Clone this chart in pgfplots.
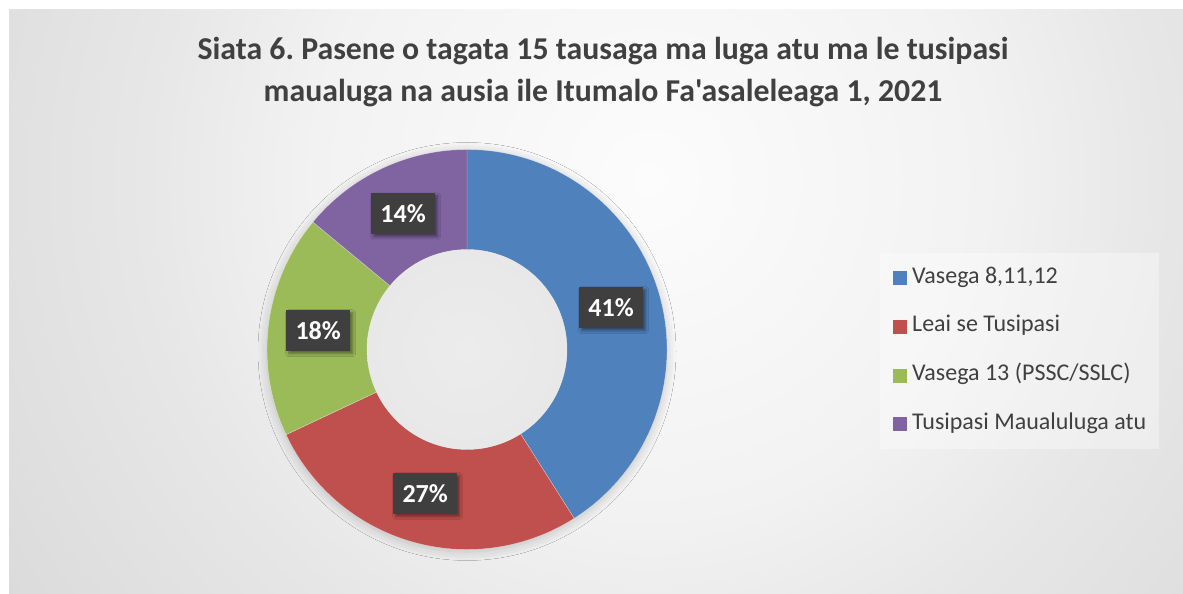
\documentclass[border=0pt]{standalone}
\usepackage{pgfplots}
\pgfplotsset{compat=1.18}
\usepackage{pgfplotstable}
\usetikzlibrary{shadows.blur}
\usepackage{fontspec}
\setmainfont{Carlito}[Ligatures=TeXOff]
\frenchspacing

\definecolor{cblue}{HTML}{4F81BD}
\definecolor{cred}{HTML}{C0504D}
\definecolor{cgreen}{HTML}{9BBB59}
\definecolor{cpurple}{HTML}{8064A2}
\definecolor{ctext}{HTML}{404040}
\definecolor{lblbox}{HTML}{3F3F3F}
\definecolor{bg0}{HTML}{FCFCFC}
\definecolor{bg1}{HTML}{F2F2F2}
\definecolor{bg2}{HTML}{E7E7E7}
\definecolor{bg3}{HTML}{D8D8D8}
\definecolor{bg4}{HTML}{C8C8C8}
\definecolor{bg5}{HTML}{BEBEBE}
\definecolor{h0}{HTML}{ECECEC}
\definecolor{h1}{HTML}{E6E6E6}
\definecolor{h2}{HTML}{D0D0D0}

\pgfdeclareradialshading{bgshade}{\pgfpoint{0bp}{0bp}}{%
  color(0bp)=(bg0); color(12bp)=(bg1); color(18bp)=(bg2); color(29.5bp)=(bg3); color(38bp)=(bg4); color(47bp)=(bg5); color(50bp)=(bg5)}
\pgfdeclareradialshading{holeshade}{\pgfpoint{0bp}{0bp}}{%
  color(0bp)=(h0); color(38bp)=(h1); color(50bp)=(h2)}

\tikzset{lbl/.style={fill=lblbox, text=white, font=\fontsize{26bp}{30bp}\selectfont\bfseries,
    minimum width=64bp, minimum height=41bp, inner sep=0pt,
    blur shadow={shadow xshift=2.5bp, shadow yshift=-2.5bp, shadow blur radius=3bp, shadow opacity=45}}}

\pgfplotstableread{
value
41
27
18
14
}\piedata

\newcommand\piewedge[3]{%
  \fill[#3, draw=white, draw opacity=0.5, line width=0.4bp]
   (axis cs:{\cx+\Ro*cos(#1)},{\cy+\Ro*sin(#1)}) arc[start angle=#1,end angle=#2,radius=\Ro bp]
   -- (axis cs:{\cx+\Ri*cos(#2)},{\cy+\Ri*sin(#2)}) arc[start angle=#2,end angle=#1,radius=\Ri bp] -- cycle;}

\begin{document}
\begin{tikzpicture}
% canvas
\fill[white] (0,0) rectangle (1183bp,594bp);
\begin{scope}
  \clip (9bp,0bp) rectangle (1183bp,584bp);
  \shade[shading=bgshade] (-50bp,-286bp) rectangle (1350bp,1114bp);
\end{scope}
% title
\node[anchor=base, font=\fontsize{31.8bp}{38bp}\selectfont\bfseries, text=ctext, inner sep=0pt]
  at (603bp,534bp) {Siata 6. Pasene o tagata 15 tausaga ma luga atu ma le tusipasi};
\node[anchor=base, font=\fontsize{31.8bp}{38bp}\selectfont\bfseries, text=ctext, inner sep=0pt]
  at (603bp,492bp) {maualuga na ausia ile Itumalo Fa'asaleleaga 1, 2021};

% data
\pgfplotstablegetelem{0}{value}\of\piedata\pgfmathsetmacro\vA{\pgfplotsretval}
\pgfplotstablegetelem{1}{value}\of\piedata\pgfmathsetmacro\vB{\pgfplotsretval}
\pgfplotstablegetelem{2}{value}\of\piedata\pgfmathsetmacro\vC{\pgfplotsretval}
\pgfplotstablegetelem{3}{value}\of\piedata\pgfmathsetmacro\vD{\pgfplotsretval}
\pgfmathsetmacro\tot{\vA+\vB+\vC+\vD}
\pgfmathsetmacro\aA{90}
\pgfmathsetmacro\aB{\aA-360*\vA/\tot}
\pgfmathsetmacro\aC{\aB-360*\vB/\tot}
\pgfmathsetmacro\aD{\aC-360*\vC/\tot}
\pgfmathsetmacro\aE{\aD-360*\vD/\tot}
\pgfmathtruncatemacro\pA{round(100*\vA/\tot)}
\pgfmathtruncatemacro\pB{round(100*\vB/\tot)}
\pgfmathtruncatemacro\pC{round(100*\vC/\tot)}
\pgfmathtruncatemacro\pD{round(100*\vD/\tot)}
\pgfmathsetmacro\mA{(\aA+\aB)/2}
\pgfmathsetmacro\mB{(\aB+\aC)/2}
\pgfmathsetmacro\mC{(\aC+\aD)/2}
\pgfmathsetmacro\mD{(\aD+\aE)/2}
\def\cx{467}\def\cy{244.5}\def\Ro{200}\def\Ri{100}\def\Rl{150}

\begin{axis}[
  x=1bp, y=1bp, xmin=0, xmax=1183, ymin=0, ymax=594,
  at={(0,0)}, anchor=south west, hide axis, clip=false,
  legend image code/.code={\fill[#1, fill opacity=1] (0bp,-7bp) rectangle (14bp,7bp);},
  legend cell align=left,
  legend style={at={(axis cs:880,341)}, anchor=north west,
    fill=white, fill opacity=0.35, text opacity=1, draw=none,
    inner xsep=13bp, inner ysep=15bp,
    font=\fontsize{24bp}{28bp}\selectfont, text=ctext,
    row sep=28.7bp, column sep=5bp,
    nodes={inner sep=0pt, text height=15bp, text depth=5bp}},
]
\addlegendimage{fill=cblue, draw=none}\addlegendentry{Vasega 8,11,12}
\addlegendimage{fill=cred, draw=none}\addlegendentry{Leai se Tusipasi}
\addlegendimage{fill=cgreen, draw=none}\addlegendentry{Vasega 13 (PSSC/SSLC)}
\addlegendimage{fill=cpurple, draw=none}\addlegendentry{Tusipasi Maualuluga atu}

\path[blur shadow={shadow xshift=0bp, shadow yshift=-2bp, shadow blur radius=9bp, shadow opacity=20}]
  (axis cs:\cx,\cy) circle[radius=\Ro bp];
\piewedge{\aA}{\aB}{cblue}
\piewedge{\aB}{\aC}{cred}
\piewedge{\aC}{\aD}{cgreen}
\piewedge{\aD}{\aE}{cpurple}
\shade[shading=holeshade] (axis cs:\cx,\cy) circle[radius=\Ri bp];

\node[lbl] at (axis cs:{\cx+\Rl*cos(\mA)},{\cy+\Rl*sin(\mA)}) {\pA\%};
\node[lbl] at (axis cs:{\cx+\Rl*cos(\mB)},{\cy+\Rl*sin(\mB)}) {\pB\%};
\node[lbl] at (axis cs:{\cx+\Rl*cos(\mC)},{\cy+\Rl*sin(\mC)}) {\pC\%};
\node[lbl] at (axis cs:{\cx+\Rl*cos(\mD)},{\cy+\Rl*sin(\mD)}) {\pD\%};
\end{axis}
\end{tikzpicture}
\end{document}
